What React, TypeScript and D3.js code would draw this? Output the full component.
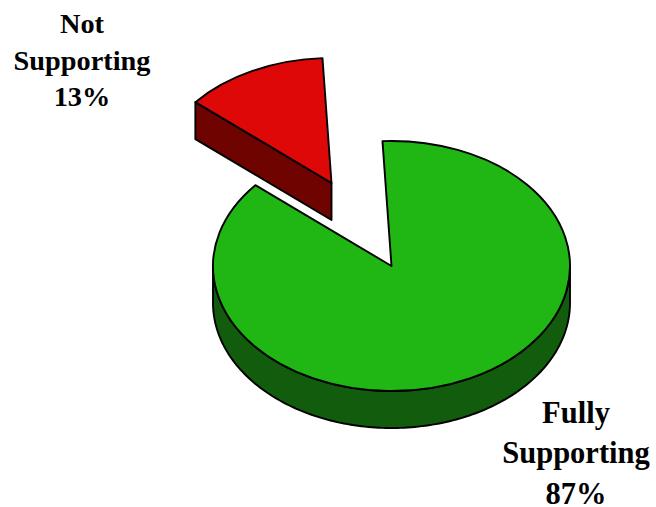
import * as d3 from "d3"

const categories = ["Fully Supporting", "Not Supporting"]
const values = [87, 13]
const labelLines = [["Fully", "Supporting", "87%"], ["Not", "Supporting", "13%"]]
const topColors = ["#20b614", "#dd0807"]
const sideColors = ["#115c0d", "#6e0300"]

const W = 656
const H = 507
const cx = 391.5
const cy = 266
const rx = 178.5
const ry = 125
const depth = 37
const rotation = (-2.9 * Math.PI) / 180
// only the small slice is pulled out
const explode = [{ dx: 0, dy: 0 }, { dx: -60, dy: -83 }]
const labelStyle = [
  { x: 576, y: [423, 463, 504], size: 30.5 },
  { x: 82, y: [33, 70, 106], size: 28.3 },
]

const pie = d3.pie<number>().sort(null).startAngle(rotation).endAngle(rotation + 2 * Math.PI)
const slices = pie(values)
const arc = d3.arc<d3.PieArcDatum<number>>().innerRadius(0).outerRadius(rx)

// angle measured clockwise from 12 o'clock, squashed to the tilted ellipse
const px = (a: number) => rx * Math.sin(a)
const py = (a: number) => -ry * Math.cos(a)

const rim = d3.area<number>()
  .x(px)
  .y0(py)
  .y1(a => py(a) + depth)

const rimAngles = d3.range(Math.PI / 2, (3 * Math.PI) / 2, 0.02).concat((3 * Math.PI) / 2)

const cutAngle = slices[1].startAngle
const cutLine = d3.line()([
  [px(cutAngle), py(cutAngle)],
  [0, 0],
  [0, depth],
  [px(cutAngle), py(cutAngle) + depth],
]) + "Z"

export default function App() {
  return (
    <svg width={W} height={H} viewBox={`0 0 ${W} ${H}`} role="img" aria-label="Supporting share pie"
      style={{ position: "absolute", left: 0, top: 0, background: "#fff" }}>
      <g transform={`translate(${cx + explode[0].dx},${cy + explode[0].dy})`} stroke="#000" strokeWidth={1.9} strokeLinejoin="round">
        <path d={rim(rimAngles) || ""} fill={sideColors[0]} />
        <path d={arc(slices[0]) || ""} transform={`scale(1,${ry / rx})`} fill={topColors[0]} vectorEffect="non-scaling-stroke" />
      </g>
      <g transform={`translate(${cx + explode[1].dx},${cy + explode[1].dy})`} stroke="#000" strokeWidth={1.9} strokeLinejoin="round">
        <path d={cutLine} fill={sideColors[1]} />
        <path d={arc(slices[1]) || ""} transform={`scale(1,${ry / rx})`} fill={topColors[1]} vectorEffect="non-scaling-stroke" />
      </g>
      {categories.map((c, i) => (
        <text key={c} textAnchor="middle" fontFamily="'Liberation Serif'" fontWeight="bold" fontSize={labelStyle[i].size} fill="#000">
          {labelLines[i].map((line, j) => (
            <tspan key={j} x={labelStyle[i].x} y={labelStyle[i].y[j]}>{line}</tspan>
          ))}
        </text>
      ))}
    </svg>
  )
}
